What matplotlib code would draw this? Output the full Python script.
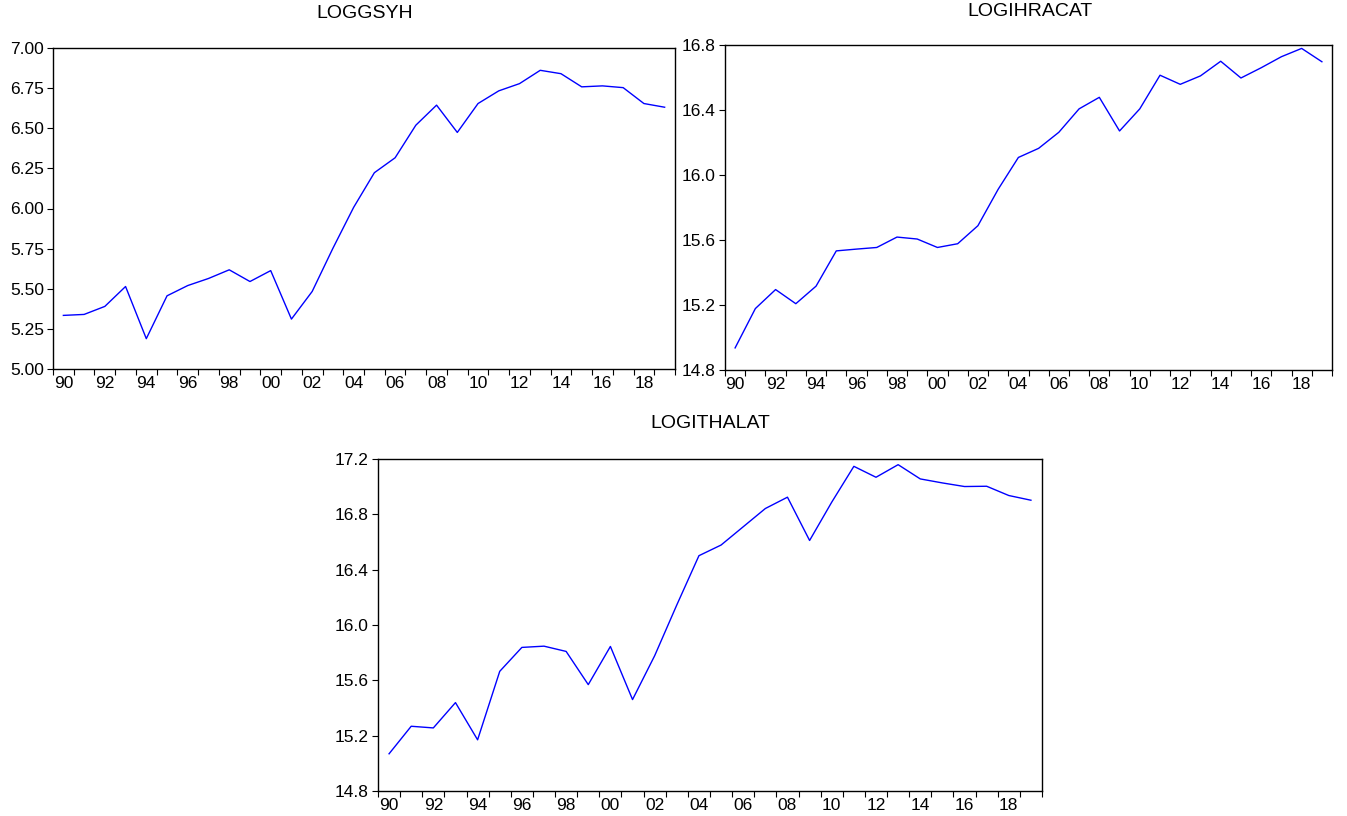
import matplotlib.pyplot as plt
import numpy as np

plt.rcParams['font.family'] = ['Liberation Sans', 'DejaVu Sans']

years = np.arange(1990, 2020)

loggsyh = [5.334, 5.340, 5.390, 5.514, 5.189, 5.456, 5.520, 5.564, 5.618, 5.545,
           5.613, 5.311, 5.483, 5.752, 6.007, 6.223, 6.316, 6.519, 6.644, 6.474,
           6.654, 6.733, 6.778, 6.861, 6.840, 6.758, 6.764, 6.753, 6.654, 6.631]

logihracat = [14.936, 15.178, 15.295, 15.208, 15.316, 15.533, 15.544, 15.554, 15.618, 15.606,
              15.554, 15.577, 15.688, 15.912, 16.108, 16.164, 16.263, 16.407, 16.478, 16.271,
              16.407, 16.614, 16.558, 16.610, 16.700, 16.597, 16.660, 16.728, 16.779, 16.697]

logithalat = [15.069, 15.268, 15.256, 15.439, 15.170, 15.665, 15.838, 15.847, 15.809, 15.569,
              15.845, 15.461, 15.778, 16.145, 16.501, 16.578, 16.710, 16.842, 16.924, 16.611,
              16.888, 17.147, 17.068, 17.159, 17.056, 17.027, 17.001, 17.003, 16.936, 16.902]

W, H = 1347, 816
fig = plt.figure(figsize=(W / 100, H / 100), dpi=100)


def panel(left, right, top, bottom, values, title, yticks, fmt, title_xy):
    ax = fig.add_axes([left / W, 1 - bottom / H, (right - left) / W, (bottom - top) / H])
    ax.plot(years, values, color='#0000ff', lw=1.0)
    ax.set_xlim(1989.5, 2019.5)
    ax.set_ylim(yticks[0], yticks[-1])
    ax.set_yticks(yticks)
    ax.set_yticklabels([fmt.format(v) for v in yticks])
    # year boundaries get the tick marks, even years get the labels
    ax.set_xticks(np.arange(1989.5, 2020, 1.0))
    ax.set_xticklabels([])
    ax.set_xticks(years[::2], minor=True)
    ax.set_xticklabels(['%02d' % (y % 100) for y in years[::2]], minor=True)
    ax.tick_params(axis='x', which='major', direction='out', length=4.5, width=0.8)
    ax.tick_params(axis='x', which='minor', length=0, pad=5, labelsize=12.5)
    ax.tick_params(axis='y', direction='out', length=4.5, width=0.8, pad=2, labelsize=12.5)
    for s in ax.spines.values():
        s.set_linewidth(1)
    fig.text(title_xy[0] / W, 1 - title_xy[1] / H, title, ha='center', va='center', fontsize=14)
    return ax


panel(53, 675, 48, 369, loggsyh, 'LOGGSYH',
      [5.00, 5.25, 5.50, 5.75, 6.00, 6.25, 6.50, 6.75, 7.00], '{:.2f}', (365, 14))
panel(725, 1332, 45, 370, logihracat, 'LOGIHRACAT',
      [14.8, 15.2, 15.6, 16.0, 16.4, 16.8], '{:.1f}', (1030, 12))
panel(378, 1042, 459, 791, logithalat, 'LOGITHALAT',
      [14.8, 15.2, 15.6, 16.0, 16.4, 16.8, 17.2], '{:.1f}', (710, 423))

fig.savefig('out.png', dpi=100)
